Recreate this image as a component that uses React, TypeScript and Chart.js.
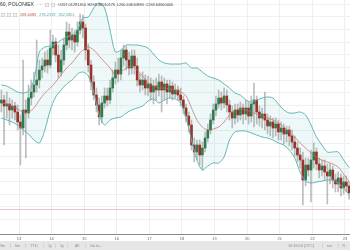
import React, { useEffect, useRef } from "react";
import { Chart, registerables } from "chart.js";

Chart.register(...registerables);

// ---- data (prices) ----
const dayLabels = ["13", "14", "15", "16", "17", "18", "19", "20", "21", "22", "23"];
const firstCandleHour = -13; // hours relative to day 13, 00:00
const candleStepHours = 2;
const bandStepHours = 4;

const opens = [
  308.5, 310, 307, 308, 305, 307, 304, 299, 296, 305,
  303.5, 311, 314, 317.5, 320, 325, 327, 330, 327.5, 336,
  339, 332.5, 324, 330, 337.5, 344, 340, 342.5, 339, 345,
  349, 346, 335, 327.5, 319, 312.5, 307.5, 301.5, 308.5, 312,
  310, 316, 321, 325, 323, 331, 335, 330, 326, 332,
  327, 320, 317.5, 320, 316, 318, 314, 317, 315, 319,
  315, 318, 314, 317, 313, 315, 312.5, 310, 306, 302,
  297.5, 287.5, 284, 287.5, 282.5, 286, 291, 295, 300, 305,
  308, 311, 308.5, 312, 307.5, 304, 301, 305, 302.5, 306,
  303, 306, 302, 308, 310, 304, 301, 303, 300, 297,
  299, 296, 298, 294, 296, 293, 295, 292, 289, 286,
  282.5, 280, 270, 277.5, 275, 280, 284, 278, 275, 277,
  274, 272, 275, 270, 268, 271, 266, 269, 267.01
];
const highs = [
  315, 312.5, 314, 311, 310, 309, 307.5, 302.5, 330, 310,
  317.5, 320, 324, 340, 330, 331, 334, 335, 345, 342.5,
  341, 337.5, 335, 341, 349, 348, 346, 345, 349, 353,
  352.5, 348, 338, 330, 322, 316, 311, 312, 316, 316,
  320, 325, 329, 331, 335, 337.5, 337, 334, 335, 335,
  331, 323, 324, 322.5, 322, 321, 320, 321, 323, 322,
  321, 320, 320, 319, 318, 317, 316, 312, 308, 304,
  300, 291, 290, 290, 289, 294, 298, 303, 308, 312,
  315, 314, 316, 315, 310, 307, 308, 308, 309, 308,
  310, 309, 312, 318.5, 312, 307, 306, 314, 303, 302,
  301, 301, 300, 299, 298, 297, 297, 295, 292, 289,
  286, 284, 281, 281, 285, 288.5, 286, 281, 280, 280,
  278, 278, 277, 273, 274, 273, 272, 272, 269.38
];
const lows = [
  304, 287.5, 301, 297.5, 301, 300, 295, 277.5, 292.5, 281,
  301, 307.5, 311.5, 314, 316, 321, 324, 323.5, 326, 332.5,
  329, 321, 322, 327.5, 335, 336, 335, 334, 337, 343,
  341, 330, 324, 315, 310, 304, 297.5, 298.5, 306, 307,
  308, 314, 318, 319, 320, 327, 325, 322.5, 323, 323,
  317, 314, 315, 312.5, 312, 310, 308, 310, 312, 304,
  310, 308, 311, 310, 311, 310, 307, 303, 299, 294,
  285, 279, 280, 277.5, 275, 284, 289, 293, 298, 302,
  306, 305, 306, 304, 300, 296, 298, 299, 300, 298,
  300, 298, 299, 296.5, 298, 297, 296, 295, 293, 292,
  291, 292, 290, 290, 288, 289, 287, 285, 282, 279,
  276, 257.5, 267, 272, 259, 276, 275, 271, 272, 270,
  258, 268, 266, 264, 264, 262, 263, 264, 260.45
];
const closes = [
  310, 307, 308, 305, 307, 304, 299, 296, 305, 303.5,
  311, 314, 317.5, 320, 325, 327, 330, 327.5, 336, 339,
  332.5, 324, 330, 337.5, 344, 340, 342.5, 339, 345, 349,
  346, 335, 327.5, 319, 312.5, 307.5, 301.5, 308.5, 312, 310,
  316, 321, 325, 323, 331, 335, 330, 326, 332, 327,
  320, 317.5, 320, 316, 318, 314, 317, 315, 319, 315,
  318, 314, 317, 313, 315, 312.5, 310, 306, 302, 297.5,
  287.5, 284, 287.5, 282.5, 286, 291, 295, 300, 305, 308,
  311, 308.5, 312, 307.5, 304, 301, 305, 302.5, 306, 303,
  306, 302, 308, 310, 304, 301, 303, 300, 297, 299,
  296, 298, 294, 296, 293, 295, 292, 289, 286, 282.5,
  280, 270, 277.5, 275, 280, 284, 278, 275, 277, 274,
  272, 275, 270, 268, 271, 266, 269, 267, 263.646
];

// Bollinger bands (20, 2) read every 4 hours
const bandUpper = [
  317.5, 317, 315.5, 314, 313.5, 314.5, 320, 334, 336.5, 337,
  338, 340, 341.5, 342.5, 345, 351, 351.5, 356, 358.5, 356,
  345, 334, 335, 337.5, 337.5, 337.5, 337, 336, 333, 330,
  328.5, 328, 328, 328, 328.5, 326, 326, 324, 322, 321,
  320, 318, 316, 313.5, 312.5, 310, 309, 310, 311, 311.5,
  311, 308, 305, 303.5, 303.5, 304, 302.5, 297.5, 291.5, 287.5,
  284, 284, 284, 280, 276.2319
];
const bandMiddle = [
  308.5, 308, 307, 305.5, 304, 304, 306, 310, 313.5, 316,
  319, 322.5, 326, 328.5, 332, 335, 336.5, 335, 332, 329,
  326, 322.5, 324, 326, 327, 325, 322, 318.5, 317, 316,
  316, 315.5, 315, 314, 312, 306, 300, 296.5, 295, 295.5,
  296.5, 299, 302.5, 305, 305.5, 305, 304, 303, 302, 301,
  300, 298.5, 296.5, 294, 291.5, 288.5, 286, 283.5, 281.5, 280,
  279, 278, 276.5, 273, 269.4085
];
const bandLower = [
  301, 300, 299, 297.5, 295, 293, 290, 288.5, 295, 305,
  311.5, 315, 318, 320, 323, 324, 322, 314, 302.5, 297.5,
  300, 301, 301.5, 303.5, 305, 306, 307, 309.5, 310.5, 308.5,
  310, 311, 310.5, 308.5, 301, 290, 280, 275, 277, 278.5,
  278.5, 281.5, 290, 294, 294.5, 294.5, 293.5, 292.5, 291.5, 291,
  290, 288.5, 287.5, 285, 281, 274, 269.5, 268.5, 269, 269.5,
  270, 270, 268.5, 266, 262.5851
];

const priceLine = 255.5;

// ---- texts ----
const legendTitle = "60, POLONIEX";
const legendOHLC = ["O267.01291450", "H269.38010176", "L260.44610880", "C263.64600000"];
const bbLegend = ["269.4085", "276.2319", "262.5851"];
const rangeButtons = ["3m", "6m", "YTD", "1y", "5y", "All", "Go to..."];
const statusItems = ["10:36:04 (UTC)", "ext", "%"];

// ---- styles ----
const FONT = '"Liberation Sans", Arial, sans-serif';
const upColor = "#2f7a4e";
const downColor = "#99332a";
const wickColor = "rgba(135,135,135,0.55)";
const bandColor = "#62b6b8";
const bandFill = "rgba(140,205,205,0.14)";
const basisColor = "rgba(196,112,100,0.9)";
const gridColor = "#efefef";

const overlayPlugin = {
  id: "overlay",
  beforeDatasetsDraw(chart: any) {
    const { ctx, chartArea, scales } = chart;
    const y = Math.round(scales.y.getPixelForValue(priceLine)) + 0.5;
    ctx.save();
    ctx.strokeStyle = "rgba(228,178,178,0.7)";
    ctx.lineWidth = 1;
    ctx.beginPath();
    ctx.moveTo(chartArea.left, y);
    ctx.lineTo(chartArea.right, y);
    ctx.stroke();
    ctx.restore();
  },
  afterDraw(chart: any) {
    const { ctx } = chart;
    ctx.save();
    ctx.textBaseline = "middle";
    // line 1
    ctx.font = `5px ${FONT}`;
    ctx.fillStyle = "#333";
    ctx.textAlign = "left";
    ctx.fillText(legendTitle, 0, 5);
    ctx.fillStyle = "#aaa";
    ctx.fillText("-", 40, 5);
    const box = (x: number, y: number) => {
      ctx.fillStyle = "#f2f2f2";
      ctx.fillRect(x, y, 4, 4);
      ctx.strokeStyle = "#c8c8c8";
      ctx.lineWidth = 0.6;
      ctx.strokeRect(x + 0.3, y + 0.3, 3.4, 3.4);
    };
    box(45, 3);
    box(51, 3);
    ctx.font = `3.9px ${FONT}`;
    ctx.fillStyle = "#444";
    let x = 58;
    legendOHLC.forEach((t) => {
      ctx.fillText(t, x, 5);
      x += ctx.measureText(t).width + 1.6;
    });
    // line 2
    box(1, 13);
    box(7, 13);
    box(13, 13);
    const bbColors = ["#b0574b", "#4fa7a9", "#4fa7a9"];
    let bx = 20;
    bbLegend.forEach((t, i) => {
      ctx.fillStyle = bbColors[i];
      ctx.fillText(t, bx, 15);
      bx += ctx.measureText(t).width + 3;
    });
    // bottom toolbar
    ctx.fillStyle = "#e6e6e6";
    ctx.fillRect(0, 241, 350, 9);
    ctx.font = `3.8px ${FONT}`;
    const btnX = [0, 15, 30, 48, 60, 75, 90];
    const sepX = [10, 25, 43, 55, 67, 85];
    ctx.fillStyle = "#8e8e8e";
    rangeButtons.forEach((t, i) => ctx.fillText(t, btnX[i], 245.5));
    ctx.fillStyle = "#c4c4c4";
    sepX.forEach((sx) => ctx.fillRect(sx, 243.5, 0.6, 4));
    const stX = [288, 327, 342];
    ctx.fillStyle = "#8e8e8e";
    statusItems.forEach((t, i) => ctx.fillText(t, stX[i], 245.5));
    ctx.fillStyle = "#c4c4c4";
    [322, 338].forEach((sx) => ctx.fillRect(sx, 243.5, 0.6, 4));
    ctx.restore();
  },
};

export default function App() {
  const ref = useRef<HTMLCanvasElement>(null);

  useEffect(() => {
    const canvas = ref.current;
    if (!canvas) return;
    const candleX = opens.map((_, i) => firstCandleHour + i * candleStepHours);
    const bandX = bandUpper.map((_, i) => firstCandleHour + i * bandStepHours);
    const isUp = (i: number) => closes[i] >= opens[i];

    const chart = new Chart(canvas, {
      type: "bar",
      data: {
        datasets: [
          {
            type: "line",
            data: bandX.map((x, i) => ({ x, y: bandUpper[i] })),
            borderColor: bandColor,
            borderWidth: 1,
            pointRadius: 0,
            tension: 0.3,
            fill: "+1",
            backgroundColor: bandFill,
            order: 0,
          },
          {
            type: "line",
            data: bandX.map((x, i) => ({ x, y: bandLower[i] })),
            borderColor: bandColor,
            borderWidth: 1,
            pointRadius: 0,
            tension: 0.3,
            fill: false,
            order: 0,
          },
          {
            type: "line",
            data: bandX.map((x, i) => ({ x, y: bandMiddle[i] })),
            borderColor: basisColor,
            borderWidth: 0.8,
            pointRadius: 0,
            tension: 0.3,
            fill: false,
            order: 0,
          },
          {
            type: "bar",
            data: candleX.map((x, i) => ({
              x,
              y: [Math.min(opens[i], closes[i]), Math.max(opens[i], closes[i])],
            })),
            backgroundColor: (c: any) => (isUp(c.dataIndex) ? upColor : downColor),
            barThickness: 2,
            minBarLength: 1,
            grouped: false,
            borderWidth: 0,
            order: 1,
          },
          {
            type: "bar",
            data: candleX.map((x, i) => ({ x, y: [lows[i], highs[i]] })),
            backgroundColor: wickColor,
            barThickness: 1,
            grouped: false,
            borderWidth: 0,
            order: 2,
          },
        ] as any,
      },
      options: {
        animation: false,
        responsive: false,
        devicePixelRatio: 1,
        events: [],
        layout: { padding: 0 },
        plugins: {
          legend: { display: false },
          tooltip: { enabled: false },
          filler: { drawTime: "beforeDatasetsDraw" },
        } as any,
        scales: {
          x: {
            type: "linear",
            min: -14,
            max: 243.7,
            offset: false,
            grid: { color: gridColor, drawTicks: false, offset: false },
            border: { display: true, color: "#8a8a8a", width: 1 },
            afterBuildTicks: (scale: any) => {
              scale.ticks = dayLabels.map((_, i) => ({ value: i * 24 }));
            },
            afterFit: (scale: any) => {
              scale.height = 16;
            },
            ticks: {
              autoSkip: false,
              maxRotation: 0,
              padding: 2,
              color: "#666",
              font: { size: 4, family: FONT },
              callback: (v: any) => dayLabels[Math.round(Number(v) / 24)] ?? "",
            },
          },
          y: {
            type: "linear",
            position: "right",
            min: 243,
            max: 360,
            beginAtZero: false,
            grid: { color: gridColor, drawTicks: false },
            border: { display: false },
            afterBuildTicks: (scale: any) => {
              const vals: { value: number }[] = [];
              for (let k = 0; k < 18; k++) vals.push({ value: 358 - (k * 19) / 3 });
              scale.ticks = vals;
            },
            afterFit: (scale: any) => {
              scale.width = 0;
            },
            ticks: { display: false },
          },
        } as any,
      },
      plugins: [overlayPlugin],
    });
    return () => chart.destroy();
  }, []);

  return (
    <div style={{ position: "fixed", left: 0, top: 0, width: 350, height: 250, background: "#fff" }}>
      <canvas ref={ref} width={350} height={250} style={{ display: "block", width: 350, height: 250 }} />
    </div>
  );
}
